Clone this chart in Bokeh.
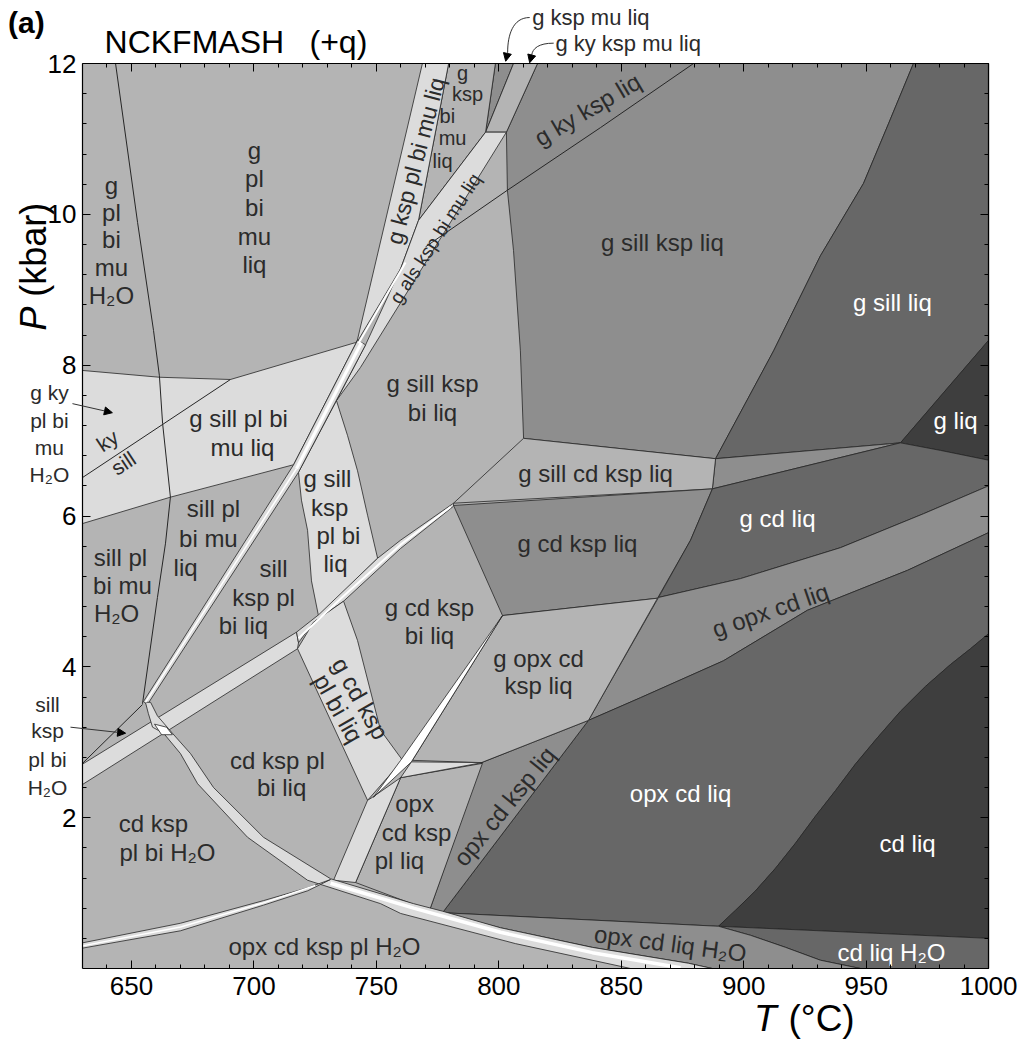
import numpy as np
from bokeh.plotting import figure
from bokeh.models import (ColumnDataSource, FixedTicker, LinearAxis, Arrow,
                          NormalHead, CustomJSTickFormatter)
from bokeh.core.properties import value
from bokeh.embed import file_html
from bokeh.resources import INLINE

FONT = "Liberation Sans"

# ---------------- axes ----------------
T_min, T_max = 630, 1000
P_min, P_max = 0, 12
x_major_ticks = [650, 700, 750, 800, 850, 900, 950, 1000]
y_major_ticks = [2, 4, 6, 8, 10, 12]
x_minor_ticks = [float(v) for v in np.arange(640, 1000, 10)]
y_minor_ticks = [round(float(v), 2) for v in np.arange(0.4, 12.0, 0.4)]

# ---------------- colours ----------------
C_LIGHT = "#dcdcdc"
C_MED = "#b4b4b4"
C_MD = "#8e8e8e"
C_DARK = "#676767"
C_DARKEST = "#3e3e3e"
C_WHITE = "#ffffff"
C_LINE = "#262626"
C_TEXT = "#2b2b2b"

# ---------------- fields: T (deg C) and P (kbar) of outline vertices ----------------
md1_T = [815.8, 969.3, 959.1, 948.9, 931.3, 912.2, 888.5, 810.1, 808.8, 806.0, 803.5, 803.1]
md1_P = [12.0, 12.0, 11.20, 10.41, 9.45, 8.19, 6.76, 7.03, 8.19, 9.52, 10.32, 11.09]
gkspmu_T = [798.6, 806.0, 794.6]
gkspmu_P = [12.0, 12.0, 11.09]
gkykspmu_T = [806.0, 815.8, 803.1, 794.6]
gkykspmu_P = [12.0, 12.0, 11.09, 11.09]
gkspbimu_T = [779.5, 798.6, 794.6, 767.2]
gkspbimu_P = [12.0, 12.0, 11.09, 9.92]
gsillliq_T = [969.3, 1000, 1000, 964.0, 888.5, 912.2, 931.3, 948.9, 959.1]
gsillliq_P = [12.0, 12.0, 8.33, 6.97, 6.76, 8.19, 9.45, 10.41, 11.20]
gliq_T = [964.0, 1000, 1000, 980.3]
gliq_P = [6.97, 8.33, 6.74, 6.87]
gsillcd_T = [888.5, 964.0, 887.2]
gsillcd_P = [6.76, 6.97, 6.36]
gsillcdksp_T = [781.5, 810.1, 888.5, 887.2]
gsillcdksp_P = [6.17, 7.03, 6.76, 6.36]
gcdksp_T = [781.5, 887.2, 878.3, 864.8, 801.5]
gcdksp_P = [6.14, 6.36, 5.68, 4.91, 4.68]
gcdliq_T = [887.2, 964.0, 980.3, 1000, 1000, 973.4, 939.5, 898.7, 865.2, 878.3]
gcdliq_P = [6.36, 6.97, 6.87, 6.74, 6.40, 6.03, 5.58, 5.17, 4.92, 5.68]
gopxcd_T = [865.2, 898.7, 939.5, 973.4, 1000, 1000, 966.9, 926.0, 891.7, 857.8, 836.6]
gopxcd_P = [4.92, 5.17, 5.58, 6.03, 6.40, 5.78, 5.28, 4.75, 4.08, 3.59, 3.29]
# cd-in boundary of the cd liq field (shared by two fields)
cdliq_edge_T = [889.7, 896.6, 904.8, 913.0, 921.1, 929.3, 937.5, 945.6, 954.6, 964.0, 974.2, 984.4, 992.6, 1000]
cdliq_edge_P = [0.56, 0.77, 1.03, 1.33, 1.66, 2.02, 2.36, 2.71, 3.06, 3.41, 3.74, 4.03, 4.24, 4.44]
opxcd_T = [836.6, 857.8, 891.7, 926.0, 966.9, 1000] + cdliq_edge_T[::-1] + [777.0]
opxcd_P = [3.29, 3.59, 4.08, 4.75, 5.28, 5.78] + cdliq_edge_P[::-1] + [0.74]
cdliq_T = cdliq_edge_T + [1000]
cdliq_P = cdliq_edge_P + [0.40]
cdliqh2o_T = [889.7, 1000, 1000, 947.7, 931.3, 917.1, 902.8]
cdliqh2o_P = [0.56, 0.40, 0.0, 0.0, 0.11, 0.28, 0.44]
opxcdliqh2o_T = [777.0, 889.7, 902.8, 917.1, 931.3, 947.7, 887.2, 877.4, 838.2, 800.7]
opxcdliqh2o_P = [0.74, 0.56, 0.44, 0.28, 0.11, 0.0, 0.0, 0.07, 0.28, 0.54]
opxcdksp_T = [792.9, 836.6, 777.0, 771.7]
opxcdksp_P = [2.73, 3.29, 0.74, 0.77]
gopxcdksp_T = [801.5, 864.8, 836.6, 792.9, 764.7]
gopxcdksp_P = [4.68, 4.91, 3.29, 2.73, 2.76]
opxcdksppl_T = [759.9, 793.3, 771.7, 741.5]
opxcdksppl_P = [2.53, 2.72, 0.77, 1.14]

la_T = [630, 661.4, 690.4, 741.5, 742.3, 716.2, 665.9, 630]
la_P = [7.93, 7.84, 7.81, 8.30, 8.33, 6.68, 6.25, 5.90]
bandA_T = [768.8, 779.5, 767.2, 759.9, 742.0]
bandA_P = [12.0, 12.0, 9.92, 9.28, 8.30]
bandB_T = [794.6, 803.1, 743.5, 733.7, 745.6, 759.9, 767.2]
bandB_P = [11.09, 11.09, 7.97, 7.53, 8.27, 9.28, 9.92]
gsksppbl_T = [718.2, 733.7, 738.2, 742.3, 746.4, 750.5, 726.4, 723.5, 721.9, 719.4]
gsksppbl_P = [6.58, 7.53, 7.07, 6.60, 6.01, 5.44, 4.67, 5.14, 5.81, 6.21]
nb_T = [742.3, 716.2, 654.9, 656.5, 718.2, 745.6]
nb_P = [8.33, 6.68, 3.54, 3.50, 6.58, 8.27]
cdwide_T = [630, 717.4, 718.2, 717.8, 630]
cdwide_P = [2.71, 4.46, 4.32, 4.24, 2.44]
cdnarrow_T = [717.4, 726.4, 750.5, 759.9, 781.5, 781.5, 759.9, 736.6, 724.3, 718.2]
cdnarrow_P = [4.46, 4.69, 5.44, 5.68, 6.17, 6.13, 5.57, 4.87, 4.59, 4.32]
gcdksppl_T = [717.8, 724.3, 736.6, 742.3, 751.7, 760.7, 746.4]
gcdksppl_P = [4.24, 4.59, 4.87, 4.35, 3.16, 2.76, 2.23]
opxband_T = [732.5, 746.4, 748.4, 759.9, 741.5]
opxband_P = [1.17, 2.23, 2.27, 2.53, 1.14]
hwedge_T = [764.3, 793.3, 759.9]
hwedge_P = [2.74, 2.73, 2.53]
curved_T = [657.8, 660.6, 666.7, 674.1, 683.5, 703.9, 731.3, 765.2, 777.0, 800.7, 838.2, 877.4, 887.2,
            853.8, 806.8, 759.9, 751.7, 721.9, 697.4, 677.0, 670.0, 663.1, 658.6, 656.9, 655.7]
curved_P = [3.53, 3.35, 3.12, 2.85, 2.40, 1.74, 1.19, 0.86, 0.76, 0.54, 0.28, 0.07, 0.0,
            0.0, 0.33, 0.73, 0.86, 1.17, 1.74, 2.45, 2.85, 3.12, 3.20, 3.38, 3.53]
thinband_T = [630, 670.0, 703.9, 721.9, 731.3, 721.9, 703.9, 670.0, 630]
thinband_P = [0.34, 0.60, 0.90, 1.07, 1.18, 1.03, 0.84, 0.50, 0.27]
wsliver_T = [801.5, 764.3, 748.8, 759.9]
wsliver_P = [4.68, 2.74, 2.27, 2.76]
wcross_T = [659.4, 664.3, 666.7, 662.3]
wcross_P = [3.24, 3.20, 3.10, 3.10]

fields = [
    (md1_T, md1_P, C_MD), (gkspmu_T, gkspmu_P, C_MD), (gkykspmu_T, gkykspmu_P, C_MED),
    (gkspbimu_T, gkspbimu_P, C_MED), (gsillliq_T, gsillliq_P, C_DARK), (gliq_T, gliq_P, C_DARKEST),
    (gsillcd_T, gsillcd_P, C_MD), (gsillcdksp_T, gsillcdksp_P, C_MED), (gcdksp_T, gcdksp_P, C_MD),
    (gcdliq_T, gcdliq_P, C_DARK), (gopxcd_T, gopxcd_P, C_MD), (opxcd_T, opxcd_P, C_DARK),
    (cdliq_T, cdliq_P, C_DARKEST), (cdliqh2o_T, cdliqh2o_P, C_DARK),
    (opxcdliqh2o_T, opxcdliqh2o_P, C_MD), (opxcdksp_T, opxcdksp_P, C_MD),
    (gopxcdksp_T, gopxcdksp_P, C_MED), (opxcdksppl_T, opxcdksppl_P, C_MED),
    (la_T, la_P, C_LIGHT), (bandA_T, bandA_P, C_LIGHT), (bandB_T, bandB_P, C_LIGHT),
    (gsksppbl_T, gsksppbl_P, C_LIGHT), (nb_T, nb_P, C_LIGHT), (cdwide_T, cdwide_P, C_LIGHT),
    (cdnarrow_T, cdnarrow_P, C_LIGHT), (gcdksppl_T, gcdksppl_P, C_LIGHT),
    (opxband_T, opxband_P, C_LIGHT), (hwedge_T, hwedge_P, C_LIGHT),
    (curved_T, curved_P, C_LIGHT), (thinband_T, thinband_P, C_LIGHT),
    (wsliver_T, wsliver_P, C_WHITE), (wcross_T, wcross_P, C_WHITE),
]

# ---------------- white slivers inside narrow bands ----------------
wl_nb1_T, wl_nb1_P = [743.9, 717.4], [8.30, 6.63]
wl_nb2_T, wl_nb2_P = [717.4, 655.7], [6.63, 3.53]
wl_ab_T, wl_ab_P = [761.9, 742.7], [9.36, 8.29]
wl_cd_T, wl_cd_P = [718.2, 736.6, 759.9, 780.3], [4.38, 4.94, 5.62, 6.12]
wl_curve_T, wl_curve_P = [731.3, 765.2, 800.7, 838.2, 874.2], [1.13, 0.80, 0.48, 0.21, 0.01]
wl_thin_T, wl_thin_P = [630, 670.0, 703.9, 725.0], [0.30, 0.55, 0.87, 1.10]
white_lines = [(wl_nb1_T, wl_nb1_P, 3.0), (wl_nb2_T, wl_nb2_P, 1.5), (wl_ab_T, wl_ab_P, 2.0),
               (wl_cd_T, wl_cd_P, 2.0), (wl_curve_T, wl_curve_P, 3.5), (wl_thin_T, wl_thin_P, 1.5)]

# ---------------- single reaction lines ----------------
s1_T = [643.5, 652.5, 659.0, 661.4, 662.7, 665.9, 663.9, 660.6, 654.5]
s1_P = [12.0, 9.89, 8.46, 7.86, 7.23, 6.25, 5.64, 4.92, 3.51]
kysill_left_T, kysill_left_P = [630, 690.4], [6.51, 7.81]
kysill_top_T, kysill_top_P = [879.5, 841.5, 803.5, 770.1], [12.0, 11.15, 10.32, 9.57]
h2o_T, h2o_P = [630, 654.5], [2.72, 3.50]
dark_lines = [(s1_T, s1_P), (kysill_left_T, kysill_left_P), (kysill_top_T, kysill_top_P), (h2o_T, h2o_P)]

# ---------------- pointer arrows (curved part + straight tip) ----------------
curve_x0 = [812.6, 822.4]
curve_y0 = [12.61, 12.27]
curve_cx0 = [805.6, 816.2]
curve_cy0 = [12.61, 12.27]
curve_cx1 = [803.6, 813.8]
curve_cy1 = [12.37, 12.20]
curve_x1 = [803.6, 813.4]
curve_y1 = [12.15, 12.11]
arrows = [(625.9, 7.49, 642.2, 7.37), (625.1, 3.20, 647.6, 3.12),
          (803.6, 12.15, 802.8, 12.03), (813.4, 12.11, 812.6, 12.01)]

# ---------------- texts ----------------
W, D, K = "white", C_TEXT, "black"
labels = [
    # text, T, P, angle, colour, size, align, style
    ("g", 641.8, 10.38, 0, D, 24, "center", "normal"), ("pl", 641.8, 10.02, 0, D, 24, "center", "normal"),
    ("bi", 641.8, 9.67, 0, D, 24, "center", "normal"), ("mu", 641.8, 9.30, 0, D, 24, "center", "normal"),
    ("H₂O", 641.8, 8.92, 0, D, 24, "center", "normal"),
    ("g", 700.2, 10.85, 0, D, 24, "center", "normal"), ("pl", 700.2, 10.48, 0, D, 24, "center", "normal"),
    ("bi", 700.2, 10.09, 0, D, 24, "center", "normal"), ("mu", 700.2, 9.71, 0, D, 24, "center", "normal"),
    ("liq", 700.2, 9.34, 0, D, 24, "center", "normal"),
    ("g", 785.2, 11.88, 0, D, 20, "center", "normal"), ("ksp", 787.2, 11.60, 0, D, 20, "center", "normal"),
    ("bi", 779.0, 11.31, 0, D, 20, "center", "normal"), ("mu", 781.1, 11.01, 0, D, 20, "center", "normal"),
    ("liq", 777.0, 10.71, 0, D, 20, "center", "normal"),
    ("g ksp pl bi mu liq", 766.0, 10.71, 75.2, D, 23, "center", "normal"),
    ("g als ksp bi mu liq", 774.1, 9.68, 57.0, D, 19, "center", "normal"),
    ("g ky ksp liq", 836.2, 11.39, 30.5, D, 24, "center", "normal"),
    ("g sill ksp liq", 866.8, 9.63, 0, D, 24, "center", "normal"),
    ("g sill liq", 960.7, 8.83, 0, W, 24, "center", "normal"),
    ("g liq", 986.5, 7.27, 0, W, 24, "center", "normal"),
    ("g sill ksp", 772.9, 7.76, 0, D, 24, "center", "normal"), ("bi liq", 772.9, 7.37, 0, D, 24, "center", "normal"),
    ("g sill cd ksp liq", 839.5, 6.56, 0, D, 24, "center", "normal"),
    ("g cd ksp liq", 832.1, 5.64, 0, D, 24, "center", "normal"),
    ("g cd liq", 913.8, 5.97, 0, W, 24, "center", "normal"),
    ("g opx cd liq", 910.9, 4.75, 19.0, D, 24, "center", "normal"),
    ("g opx cd", 816.2, 4.11, 0, D, 24, "center", "normal"), ("ksp liq", 816.2, 3.75, 0, D, 24, "center", "normal"),
    ("g cd ksp", 771.7, 4.79, 0, D, 24, "center", "normal"), ("bi liq", 771.7, 4.42, 0, D, 24, "center", "normal"),
    ("g sill", 730.0, 6.50, 0, D, 24, "center", "normal"), ("ksp", 730.9, 6.11, 0, D, 24, "center", "normal"),
    ("pl bi", 734.5, 5.74, 0, D, 24, "center", "normal"), ("liq", 733.3, 5.37, 0, D, 24, "center", "normal"),
    ("g sill pl bi", 693.7, 7.29, 0, D, 24, "center", "normal"), ("mu liq", 695.3, 6.91, 0, D, 24, "center", "normal"),
    ("sill pl", 683.5, 6.10, 0, D, 24, "center", "normal"), ("bi mu", 681.4, 5.70, 0, D, 24, "center", "normal"),
    ("liq", 672.1, 5.32, 0, D, 24, "center", "normal"),
    ("sill", 708.0, 5.30, 0, D, 24, "center", "normal"), ("ksp pl", 703.9, 4.92, 0, D, 24, "center", "normal"),
    ("bi liq", 695.7, 4.55, 0, D, 24, "center", "normal"),
    ("sill pl", 645.5, 5.45, 0, D, 24, "center", "normal"), ("bi mu", 646.3, 5.08, 0, D, 24, "center", "normal"),
    ("H₂O", 643.9, 4.71, 0, D, 24, "center", "normal"),
    ("ky", 640.2, 7.00, 33.5, D, 21, "center", "normal"), ("sill", 646.7, 6.70, 33.5, D, 21, "center", "normal"),
    ("g cd ksp", 743.5, 3.58, -60.6, D, 24, "center", "normal"),
    ("pl bi liq", 734.5, 3.45, -60.6, D, 24, "center", "normal"),
    ("cd ksp pl", 709.6, 2.76, 0, D, 24, "center", "normal"), ("bi liq", 711.3, 2.40, 0, D, 24, "center", "normal"),
    ("cd ksp", 659.0, 1.92, 0, D, 24, "center", "normal"), ("pl bi H₂O", 664.7, 1.54, 0, D, 24, "center", "normal"),
    ("opx cd ksp pl H₂O", 728.8, 0.29, 0, D, 24, "center", "normal"),
    ("opx", 765.6, 2.19, 0, D, 24, "center", "normal"), ("cd ksp", 766.4, 1.80, 0, D, 24, "center", "normal"),
    ("pl liq", 759.4, 1.43, 0, D, 24, "center", "normal"),
    ("opx cd ksp liq", 802.3, 2.15, 50.8, D, 24, "center", "normal"),
    ("opx cd liq", 874.2, 2.32, 0, W, 24, "center", "normal"),
    ("cd liq", 966.9, 1.66, 0, W, 24, "center", "normal"),
    ("opx cd liq H₂O", 870.1, 0.33, -7.5, D, 24, "center", "normal"),
    ("cd liq H₂O", 960.3, 0.21, 0, W, 24, "center", "normal"),
    # outside the box
    ("(a)", 607.1, 12.54, 0, K, 30, "center", "bold"),
    ("NCKFMASH", 639.0, 12.29, 0, K, 32, "left", "normal"),
    ("(+q)", 722.7, 12.29, 0, K, 32, "left", "normal"),
    ("g ksp mu liq", 813.6, 12.61, 0, D, 22, "left", "normal"),
    ("g ky ksp mu liq", 823.1, 12.27, 0, D, 22, "left", "normal"),
    ("g ky", 616.5, 7.64, 0, D, 21, "center", "normal"), ("pl bi", 616.5, 7.27, 0, D, 21, "center", "normal"),
    ("mu", 616.5, 6.91, 0, D, 21, "center", "normal"), ("H₂O", 616.5, 6.55, 0, D, 21, "center", "normal"),
    ("sill", 615.7, 3.50, 0, D, 21, "center", "normal"), ("ksp", 615.7, 3.16, 0, D, 21, "center", "normal"),
    ("pl bi", 615.7, 2.77, 0, D, 21, "center", "normal"), ("H₂O", 615.7, 2.40, 0, D, 21, "center", "normal"),
    ("P", 610.0, 8.62, 90, K, 36, "center", "italic"),
    ("(kbar)", 610.0, 9.53, 90, K, 36, "center", "normal"),
    ("T", 908.8, -0.66, 0, K, 37, "center", "italic"),
    ("(°C)", 931.8, -0.66, 0, K, 37, "center", "normal"),
]

# ---------------- figure: the frame is the whole canvas, axes are pinned to the box ----------------
W_PX, H_PX = 1021, 1045
deg_per_px = 0.40833
kbar_per_px = 0.01326
x_lo = T_min - 82 * deg_per_px
x_hi = T_min + (W_PX - 82) * deg_per_px
y_hi = P_min + 968 * kbar_per_px
y_lo = P_min - (H_PX - 968) * kbar_per_px

p = figure(width=W_PX, height=H_PX, x_range=(x_lo, x_hi), y_range=(y_lo, y_hi),
           output_backend="svg", toolbar_location=None,
           min_border=0, min_border_left=0, min_border_right=0, min_border_top=0, min_border_bottom=0,
           background_fill_color="white", border_fill_color="white")
p.xgrid.visible = False
p.ygrid.visible = False
p.outline_line_color = None


def style_axis(ax, show_labels, standoff=6):
    ax.major_tick_in = 8
    ax.major_tick_out = 0
    ax.minor_tick_in = 4
    ax.minor_tick_out = 0
    ax.axis_line_color = "black"
    ax.axis_line_width = 1.2
    ax.major_tick_line_color = "black"
    ax.minor_tick_line_color = "black"
    ax.major_label_text_font = FONT
    ax.major_label_text_font_size = "26px"
    ax.major_label_text_color = "black"
    ax.major_label_standoff = standoff
    if not show_labels:
        ax.formatter = CustomJSTickFormatter(code="return ''")


bottom_ax = p.below[0]
left_ax = p.left[0]
bottom_ax.ticker = FixedTicker(ticks=x_major_ticks, minor_ticks=x_minor_ticks)
left_ax.ticker = FixedTicker(ticks=y_major_ticks, minor_ticks=y_minor_ticks)
bottom_ax.fixed_location = P_min
bottom_ax.bounds = (T_min, T_max)
left_ax.fixed_location = T_min
left_ax.bounds = (P_min, P_max)
style_axis(bottom_ax, True, 8)
style_axis(left_ax, True, 6)
top_ax = LinearAxis(ticker=FixedTicker(ticks=x_major_ticks, minor_ticks=x_minor_ticks),
                    fixed_location=P_max, bounds=(T_min, T_max))
right_ax = LinearAxis(ticker=FixedTicker(ticks=y_major_ticks, minor_ticks=y_minor_ticks),
                      fixed_location=T_max, bounds=(P_min, P_max))
style_axis(top_ax, False)
style_axis(right_ax, False)
p.add_layout(top_ax, "above")
p.add_layout(right_ax, "right")

# box background
p.quad(left=[T_min], right=[T_max], bottom=[P_min], top=[P_max], fill_color=C_MED, line_color=None)

# fields
psrc = ColumnDataSource(dict(xs=[f[0] for f in fields], ys=[f[1] for f in fields],
                             color=[f[2] for f in fields]))
p.patches(xs="xs", ys="ys", fill_color="color", line_color=C_LINE, line_width=0.8,
          line_join="round", source=psrc)

wsrc = ColumnDataSource(dict(xs=[w[0] for w in white_lines], ys=[w[1] for w in white_lines],
                             lw=[w[2] for w in white_lines]))
p.multi_line(xs="xs", ys="ys", line_color=C_WHITE, line_width="lw", source=wsrc)

dsrc = ColumnDataSource(dict(xs=[d[0] for d in dark_lines], ys=[d[1] for d in dark_lines]))
p.multi_line(xs="xs", ys="ys", line_color=C_LINE, line_width=1.0, source=dsrc)

# curved pointers
p.bezier(x0=curve_x0, y0=curve_y0, x1=curve_x1, y1=curve_y1, cx0=curve_cx0, cy0=curve_cy0,
         cx1=curve_cx1, cy1=curve_cy1, line_color="#333333", line_width=1)
for (x0, y0, x1, y1) in arrows:
    p.add_layout(Arrow(end=NormalHead(size=8, fill_color="black", line_color="black"),
                       x_start=x0, y_start=y0, x_end=x1, y_end=y1,
                       line_color="#333333", line_width=1))

lsrc = ColumnDataSource(dict(text=[l[0] for l in labels], x=[l[1] for l in labels],
                             y=[l[2] for l in labels], angle=[l[3] for l in labels],
                             color=[l[4] for l in labels], size=["%dpx" % l[5] for l in labels],
                             align=[l[6] for l in labels], style=[l[7] for l in labels]))
p.text(x="x", y="y", text="text", angle="angle", angle_units="deg", text_color="color",
       text_font_size="size", text_font=value(FONT), text_align="align",
       text_font_style="style", text_baseline="middle", source=lsrc)

open("out.html", "w").write(file_html(p, INLINE))
